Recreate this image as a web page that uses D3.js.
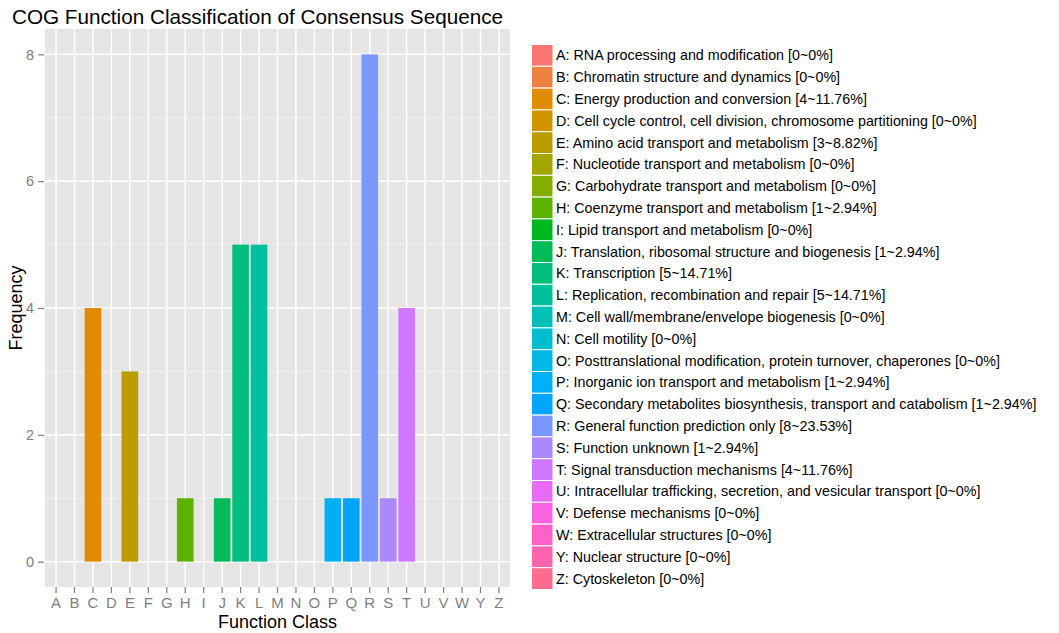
<!DOCTYPE html>
<html><head><meta charset="utf-8">
<script src="https://cdn.jsdelivr.net/npm/d3@7"></script>
<style>
html,body{margin:0;padding:0;background:#fff;}
svg{display:block;font-family:"Liberation Sans",Arial,Helvetica,sans-serif;}
</style></head>
<body>
<svg id="chart" width="1059" height="633"></svg>
<script>
const categories = ["A","B","C","D","E","F","G","H","I","J","K","L","M","N","O","P","Q","R","S","T","U","V","W","Y","Z"];
const counts = [0,0,4,0,3,0,0,1,0,1,5,5,0,0,0,1,1,8,1,4,0,0,0,0,0];
const descriptions = [
  "RNA processing and modification",
  "Chromatin structure and dynamics",
  "Energy production and conversion",
  "Cell cycle control, cell division, chromosome partitioning",
  "Amino acid transport and metabolism",
  "Nucleotide transport and metabolism",
  "Carbohydrate transport and metabolism",
  "Coenzyme transport and metabolism",
  "Lipid transport and metabolism",
  "Translation, ribosomal structure and biogenesis",
  "Transcription",
  "Replication, recombination and repair",
  "Cell wall/membrane/envelope biogenesis",
  "Cell motility",
  "Posttranslational modification, protein turnover, chaperones",
  "Inorganic ion transport and metabolism",
  "Secondary metabolites biosynthesis, transport and catabolism",
  "General function prediction only",
  "Function unknown",
  "Signal transduction mechanisms",
  "Intracellular trafficking, secretion, and vesicular transport",
  "Defense mechanisms",
  "Extracellular structures",
  "Nuclear structure",
  "Cytoskeleton"
];
const percents = ["0%","0%","11.76%","0%","8.82%","0%","0%","2.94%","0%","2.94%","14.71%","14.71%","0%","0%","0%","2.94%","2.94%","23.53%","2.94%","11.76%","0%","0%","0%","0%","0%"];
const yTicks = [0,2,4,6,8];
const yMinor = [1,3,5,7];

// ggplot-style hue palette (R hcl, polar LUV)
function hclR(h, c, l) {
  const hr = h * Math.PI / 180;
  const U = c * Math.cos(hr), V = c * Math.sin(hr);
  const Xn = 95.047, Yn = 100.0, Zn = 108.883;
  const Y = l > 8 ? Yn * Math.pow((l + 16) / 116, 3) : Yn * l / 903.3;
  const den = Xn + 15 * Yn + 3 * Zn;
  const un = 4 * Xn / den, vn = 9 * Yn / den;
  const up = U / (13 * l) + un, vp = V / (13 * l) + vn;
  const X = 9.0 * Y * up / (4 * vp);
  const Z = -X / 3 - 5 * Y + 3 * Y / vp;
  const x = X / 100, y = Y / 100, z = Z / 100;
  let r = 3.240479 * x - 1.537150 * y - 0.498535 * z;
  let g = -0.969256 * x + 1.875992 * y + 0.041556 * z;
  let b = 0.055648 * x - 0.204043 * y + 1.057311 * z;
  const gam = t => t > 0.00304 ? 1.055 * Math.pow(t, 1 / 2.4) - 0.055 : 12.92 * t;
  const cl = t => Math.max(0, Math.min(1, gam(t)));
  return d3.rgb(cl(r) * 255, cl(g) * 255, cl(b) * 255).formatHex();
}
const n = categories.length;
const colors = categories.map((d, i) => hclR(15 + 360 * i / n, 100, 65));

const svg = d3.select("#chart");
const P = {left: 45, right: 510, top: 29, bottom: 587};

const x = d3.scaleBand().domain(categories).range([P.left, P.right]).paddingInner(0.1).paddingOuter(0.15);
const y = d3.scaleLinear().domain([-0.4, 8.4]).range([P.bottom, P.top]);

// title
svg.append("text").attr("x", 12).attr("y", 23.5).attr("font-size", 20.7).attr("fill", "#000")
  .text("COG Function Classification of Consensus Sequence");

// panel
svg.append("rect").attr("x", P.left).attr("y", P.top).attr("width", P.right - P.left).attr("height", P.bottom - P.top).attr("fill", "#e5e5e5");

const g = svg.append("g");
g.selectAll("line.minor").data(yMinor).join("line")
  .attr("x1", P.left).attr("x2", P.right).attr("y1", d => y(d)).attr("y2", d => y(d))
  .attr("stroke", "#f2f2f2").attr("stroke-width", 0.8);
g.selectAll("line.majy").data(yTicks).join("line")
  .attr("x1", P.left).attr("x2", P.right).attr("y1", d => y(d)).attr("y2", d => y(d))
  .attr("stroke", "#ffffff").attr("stroke-width", 1.5);
g.selectAll("line.majx").data(categories).join("line")
  .attr("y1", P.top).attr("y2", P.bottom).attr("x1", d => x(d) + x.bandwidth() / 2).attr("x2", d => x(d) + x.bandwidth() / 2)
  .attr("stroke", "#ffffff").attr("stroke-width", 1.5);

// bars
g.selectAll("rect.bar").data(categories.map((c, i) => ({c, v: counts[i], col: colors[i]})).filter(d => d.v > 0)).join("rect")
  .attr("x", d => x(d.c)).attr("width", x.bandwidth())
  .attr("y", d => y(d.v)).attr("height", d => y(0) - y(d.v))
  .attr("fill", d => d.col);

// y axis
const yAxis = d3.axisLeft(y).tickValues(yTicks).tickSize(6).tickPadding(4);
const ya = svg.append("g").attr("transform", `translate(${P.left - 1},0)`).call(yAxis);
ya.select(".domain").remove();
ya.selectAll("line").attr("stroke", "#7f7f7f").attr("stroke-width", 1.2);
ya.selectAll("text").attr("fill", "#7f7f7f").attr("font-size", 14.5).attr("font-family", "Liberation Sans, Arial, sans-serif");

// x axis
const xAxis = d3.axisBottom(x).tickSize(6).tickPadding(4);
const xa = svg.append("g").attr("transform", `translate(0,${P.bottom})`).call(xAxis);
xa.select(".domain").remove();
xa.selectAll("line").attr("stroke", "#7f7f7f").attr("stroke-width", 1.2);
xa.selectAll("text").attr("fill", "#7f7f7f").attr("font-size", 15).attr("font-family", "Liberation Sans, Arial, sans-serif");

// axis titles
svg.append("text").attr("x", (P.left + P.right) / 2 + 0).attr("y", 628).attr("text-anchor", "middle")
  .attr("font-size", 18).text("Function Class");
svg.append("text").attr("transform", `translate(22,${(P.top + P.bottom) / 2}) rotate(-90)`).attr("text-anchor", "middle")
  .attr("font-size", 18).text("Frequency");

// legend
const L = {x: 531.5, y: 44.5, key: 21.5, row: 21.8};
const lg = svg.append("g");
const rows = lg.selectAll("g").data(categories).join("g")
  .attr("transform", (d, i) => `translate(${L.x},${L.y + i * L.row})`);
rows.append("rect").attr("width", L.key).attr("height", L.row).attr("fill", (d, i) => colors[i])
  .attr("stroke", "#ffffff").attr("stroke-width", 1);
rows.append("text").attr("x", L.key + 3).attr("y", L.row / 2 + 5).attr("font-size", 14.3).attr("fill", "#000")
  .text((d, i) => `${d}: ${descriptions[i]} [${counts[i]}~${percents[i]}]`);
</script>
</body></html>
